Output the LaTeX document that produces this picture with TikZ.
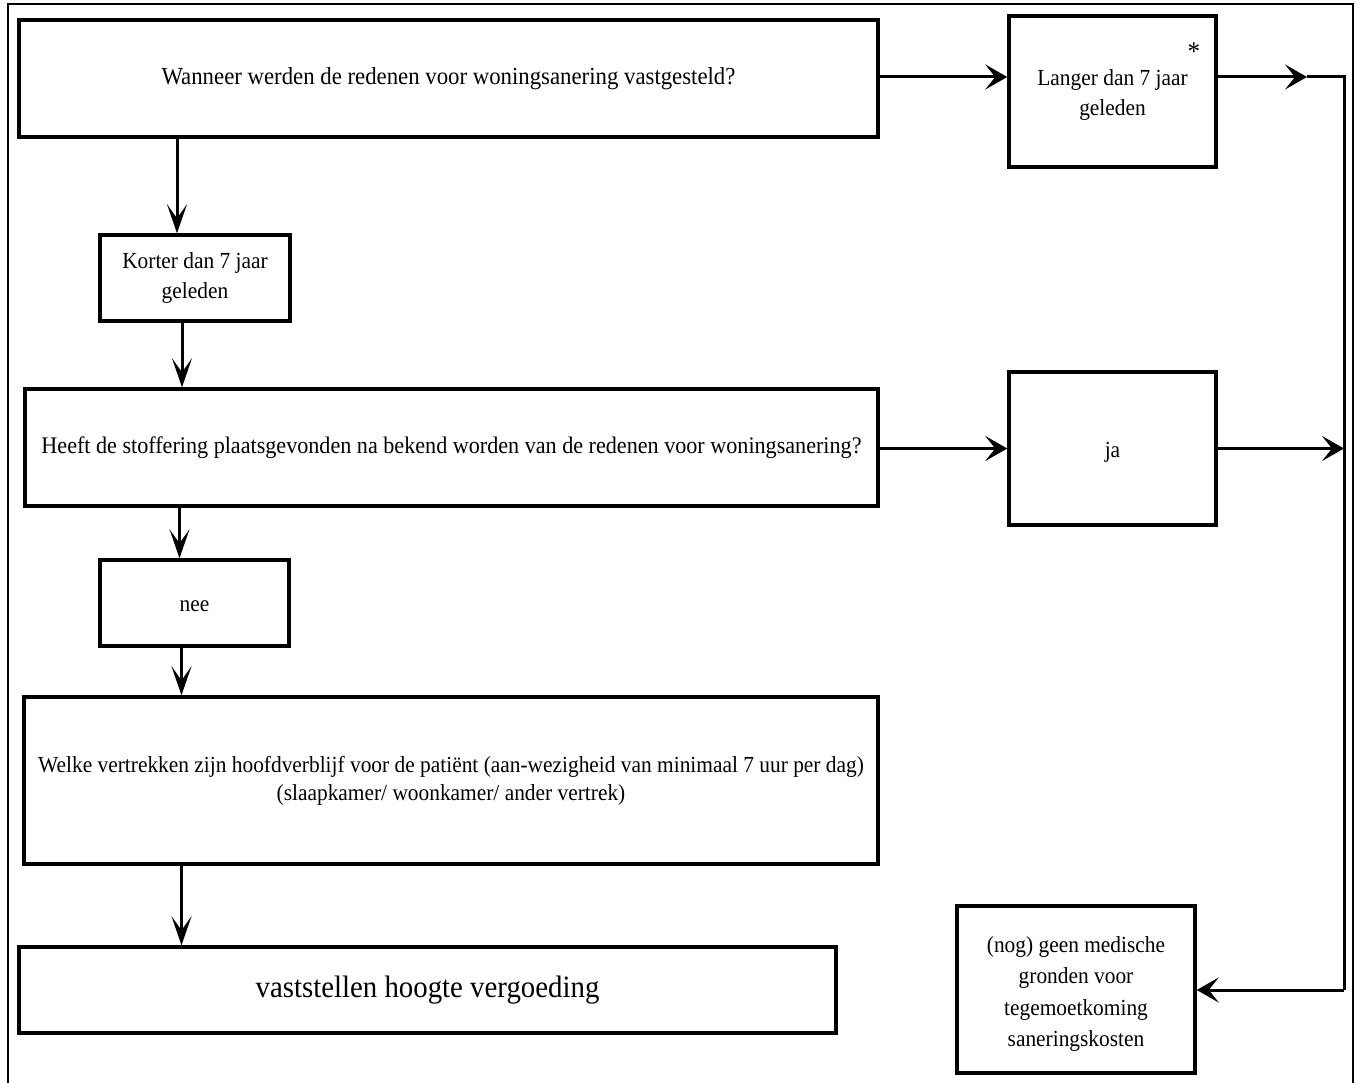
\documentclass[tikz,border=0pt]{standalone}
\usepackage{fontspec}
\setmainfont[FakeStretch=0.93]{Liberation Serif}
\usetikzlibrary{arrows.meta,calc}
\begin{document}
\begin{tikzpicture}[x=1pt,y=-1pt,
  box/.style={draw,line width=3.5pt,rectangle,align=center,inner sep=2pt,
    font=\fontsize{23}{30}\selectfont},
  txt/.style={align=center,inner sep=0pt,font=\fontsize{23}{30}\selectfont},
  harr/.style={line width=3pt,-{Stealth[length=22pt,width=25pt,inset=10pt]}},
  varr/.style={line width=3pt,-{Stealth[length=29pt,width=20pt,inset=14pt]}},
  ln/.style={line width=3pt}]
\useasboundingbox (0,0) rectangle (1361,1083);
\draw[line width=2pt] (8,1090) -- (8,4) -- (1353,4) -- (1353,1090);
\node[box,minimum width=859pt,minimum height=117pt,font=\fontsize{24.5}{30}\selectfont] (box1) at (448.5,78.5)
  {\raisebox{0pt}{Wanneer werden de redenen voor woningsanering vastgesteld?}};
\node[box,minimum width=207pt,minimum height=151pt] (langer) at (1112.5,91.5) {};
\node[txt] (langert) at (1112.5,95) {Langer dan 7 jaar\\geleden};
\node[font=\fontsize{27}{27}\selectfont,inner sep=0pt] (star) at (1194,52) {*};
\node[box,minimum width=190pt,minimum height=86pt] (korter) at (195,278)
  {Korter dan 7 jaar\\geleden};
\node[box,minimum width=853pt,minimum height=117pt,font=\fontsize{23.8}{30}\selectfont] (heeft) at (451.5,447.5)
  {Heeft de stoffering plaatsgevonden na bekend worden van de redenen voor woningsanering?};
\node[box,minimum width=207pt,minimum height=153pt] (ja) at (1112.5,448.5) {};
\node[txt] (jat) at (1112.5,452) {ja};
\node[box,minimum width=189pt,minimum height=86pt] (nee) at (194.5,603) {};
\node[txt] (neet) at (194.5,606) {nee};
\node[box,minimum width=854pt,minimum height=167pt,font=\fontsize{23}{28}\selectfont] (welke) at (451,780.5)
  {Welke vertrekken zijn hoofdverblijf voor de patiënt (aan-wezigheid van minimaal 7 uur per dag)\\(slaapkamer/ woonkamer/ ander vertrek)};
\node[box,minimum width=817pt,minimum height=86pt,font=\fontsize{31}{30}\selectfont] (vast) at (427.5,990)
  {vaststellen hoogte vergoeding};
\node[box,minimum width=238pt,minimum height=167pt] (nog) at (1076,989.5) {};
\node[txt,font=\fontsize{23}{31.5}\selectfont] (nogt) at (1076,994)
  {(nog) geen medische\\gronden voor\\tegemoetkoming\\saneringskosten};
% left column arrows
\draw[varr] ([xshift=-18pt]box1.south -| korter.north) -- ([xshift=-18pt]korter.north);
\draw[varr] ([xshift=-13pt]korter.south) -- ([xshift=-13pt]korter.south |- heeft.north);
\draw[varr] ([xshift=-15pt]heeft.south -| nee.north) -- ([xshift=-15pt]nee.north);
\draw[varr] ([xshift=-13pt]nee.south) -- ([xshift=-13pt]nee.south |- welke.north);
\draw[varr] ([xshift=-13pt]welke.south -| nee.south) -- ([xshift=-13pt]vast.north -| nee.south);
% right side
\coordinate (c1) at (1307,77);
\coordinate (c2) at (1344,77);
\coordinate (c3) at (1344,990);
\draw[harr] (box1.east |- c1) -- (langer.west |- c1);
\draw[harr] (langer.east |- c1) -- (c1);
\draw[ln] (c1) -- (c2) -- (c3);
\draw[harr] (c3) -- (nog.east |- c3);
\draw[harr] (heeft.east |- ja.west) -- (ja.west);
\draw[harr] (ja.east) -- (c2 |- ja.east);
\end{tikzpicture}
\end{document}
